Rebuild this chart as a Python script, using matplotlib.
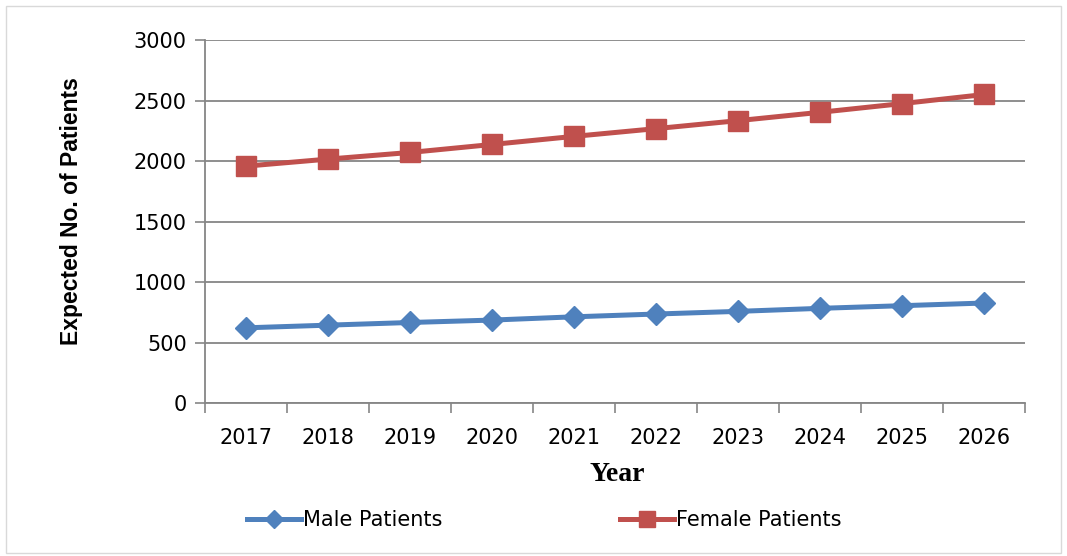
import numpy as np
import matplotlib.pyplot as plt
from matplotlib.patches import Rectangle

years = ["2017", "2018", "2019", "2020", "2021", "2022", "2023", "2024", "2025", "2026"]
male = [622, 644, 666, 686, 713, 736, 758, 783, 805, 827]
female = [1958, 2016, 2071, 2137, 2204, 2268, 2334, 2403, 2475, 2550]

blue = "#4F81BD"
red = "#C0504D"
grey = "#868686"

fig = plt.figure(figsize=(10.67, 5.56), dpi=100)
ax = fig.add_axes([0.192, 0.275, 0.769, 0.653])

x = np.arange(len(years))
ax.plot(x, male, color=blue, lw=3.6, marker="D", ms=11, label="Male Patients")
ax.plot(x, female, color=red, lw=3.6, marker="s", ms=14, label="Female Patients")

ax.set_xlim(-0.5, len(years) - 0.5)
ax.set_ylim(0, 3000)
ax.set_yticks(range(0, 3001, 500))
ax.yaxis.grid(True, color=grey, lw=1.3)
ax.set_axisbelow(True)

# category labels centred, tick marks on the boundaries
ax.set_xticks(x)
ax.set_xticklabels(years)
ax.set_xticks(np.arange(-0.5, len(years)), minor=True)
ax.tick_params(axis="x", which="major", length=0, pad=18, labelsize=15)
ax.tick_params(axis="x", which="minor", length=7, width=1.2, color=grey, direction="out")
ax.tick_params(axis="y", length=7, width=1.2, color=grey, labelsize=15, pad=6)

for s in ["top", "right"]:
    ax.spines[s].set_visible(False)
for s in ["left", "bottom"]:
    ax.spines[s].set_color(grey)
    ax.spines[s].set_linewidth(1.3)

ax.set_ylabel("Expected No. of Patients", fontsize=16.5, fontweight="bold",
              family="Liberation Sans")
ax.yaxis.set_label_coords(-0.149, 0.53)
ax.set_xlabel("Year", fontsize=20, fontweight="bold", family="Liberation Serif")
ax.xaxis.set_label_coords(0.502, -0.162)

fig.legend(loc="center", bbox_to_anchor=(0.51, 0.065), ncol=2, frameon=False,
           fontsize=15, handlelength=2.6, handletextpad=0.1, columnspacing=8.5,
           markerscale=0.85)

fig.patches.append(Rectangle((0.006, 0.005), 0.988, 0.985, transform=fig.transFigure,
                             fill=False, edgecolor="#D9D9D9", lw=1))

fig.savefig("out.png", dpi=100)
